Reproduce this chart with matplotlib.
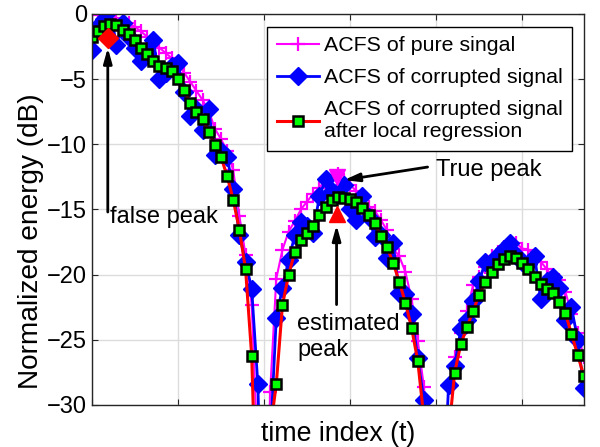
import matplotlib
matplotlib.use("Agg")
import matplotlib.pyplot as plt
import numpy as np

plt.rcParams['font.family'] = ['Liberation Sans', 'DejaVu Sans']

# sample index (time index t)
t = np.arange(81)

# ACFS of pure signal (dB)
pure = [-0.1, 0.0, -0.05, -0.2, -0.35, -0.5, -0.7, -1.0, -1.35, -1.75,
        -2.2, -2.6, -3.0, -3.4, -3.9, -4.5, -5.2, -5.9, -6.6, -7.4,
        -8.8, -9.6, -10.5, -12.0, -15.5, -18.5, -22.3, -34.0, -45.0, -29.0,
        -20.3, -18.1, -16.7, -15.9, -15.0, -14.4, -13.8, -13.35, -12.7, -12.45,
        -12.3, -12.8, -13.1, -13.6, -14.3, -14.8, -15.1, -15.8, -16.6, -18.0,
        -18.6, -19.8, -21.9, -25.1, -28.6, -40.0, -48.0, -40.0, -28.6, -26.3,
        -24.5, -22.8, -20.8, -20.2, -19.4, -18.6, -18.3, -17.85, -17.75, -17.6,
        -18.0, -18.1, -18.5, -19.0, -19.6, -20.2, -20.4, -21.3, -23.0, -24.5,
        -26.3]

# ACFS of corrupted signal (dB)
corrupted = [-2.8, -0.9, -0.4, 0.3, -2.4, -0.7, -1.8, -2.6, -3.6, -3.0,
             -2.0, -5.0, -4.5, -4.0, -3.8, -6.0, -7.8, -7.3, -8.9, -7.3,
             -10.8, -10.5, -11.0, -13.4, -17.0, -19.0, -21.1, -28.4, -45.0, -33.0,
             -23.3, -21.0, -18.9, -17.0, -16.0, -16.3, -16.8, -14.0, -12.7, -13.6,
             -13.8, -13.1, -15.0, -15.8, -14.0, -15.6, -17.1, -17.0, -18.7, -17.6,
             -21.4, -21.5, -23.0, -26.4, -29.6, -40.0, -48.0, -40.0, -28.5, -27.0,
             -24.2, -23.5, -22.0, -20.5, -19.0, -19.0, -18.5, -18.0, -17.6, -18.5,
             -19.0, -19.2, -18.6, -21.9, -20.5, -20.2, -21.0, -23.5, -22.5, -25.0,
             -28.7]

# ACFS of corrupted signal after local regression (dB)
smoothed = [-1.76, -1.3, -0.96, -0.77, -0.88, -1.23, -1.53, -2.0, -2.61, -3.07,
            -3.61, -3.99, -4.18, -4.41, -4.99, -5.83, -6.83, -7.52, -8.06, -9.05,
            -10.05, -10.97, -12.43, -14.27, -16.57, -19.57, -26.24, -42.0, -48.0, -32.0,
            -28.39, -22.33, -20.03, -18.26, -17.34, -16.78, -16.27, -15.42, -14.79, -14.27,
            -14.06, -14.16, -14.23, -14.42, -14.89, -15.42, -16.04, -17.03, -17.88, -19.1,
            -20.56, -22.17, -24.09, -26.62, -31.0, -40.0, -48.0, -40.0, -32.3, -27.52,
            -25.34, -24.04, -22.77, -21.56, -20.54, -19.77, -19.2, -18.82, -18.57, -18.74,
            -19.13, -19.59, -20.16, -20.72, -21.12, -21.43, -22.07, -22.96, -24.55, -26.16,
            -27.75]

# annotated peaks (t, dB)
false_peak = (2.6, -1.85)
true_peak = (39.8, -12.5)
est_peak = (39.8, -15.35)

fig = plt.figure(figsize=(6.0, 4.47), dpi=100)
ax = fig.add_axes([0.153, 0.094, 0.82, 0.875])

ax.plot(t, pure, color='#ff00ff', lw=1.5, marker='+', ms=10, mew=1.6,
        label='ACFS of pure singal')
ax.plot(t, corrupted, color='#0000ff', lw=2, marker='D', ms=9.5,
        label='ACFS of corrupted signal')
ax.plot(t, smoothed, color='#ff0000', lw=2.2, marker='s', ms=6.5,
        mfc='#00ff00', mec='k', mew=1.8,
        label='ACFS of corrupted signal\nafter local regression')

ax.plot(*false_peak, marker='D', color='#ff0000', ms=10, zorder=5)
ax.plot(*true_peak, marker='v', color='#ff00ff', ms=11, zorder=5)
ax.plot(*est_peak, marker='^', color='#ff0000', ms=11, zorder=5)

arrow = dict(arrowstyle='-|>,head_length=0.9,head_width=0.25', lw=2,
             color='k', shrinkA=0, shrinkB=0)
ax.annotate('', xy=(false_peak[0], false_peak[1] - 0.75),
            xytext=(false_peak[0], -15.2), arrowprops=arrow)
ax.text(2.9, -15.6, 'false peak', fontsize=17, va='center', ha='left')

ax.annotate('', xy=(est_peak[0], est_peak[1] - 0.85),
            xytext=(est_peak[0], -22.3), arrowprops=arrow)
ax.text(33.4, -24.8, 'estimated\npeak', fontsize=17, va='center', ha='left',
        linespacing=1.2)

ax.annotate('', xy=(41.0, -12.75), xytext=(54.6, -11.75), arrowprops=arrow)
ax.text(55.9, -11.95, 'True peak', fontsize=17, va='center', ha='left')

ax.set_xlim(0, 80)
ax.set_ylim(-30, 0)
ax.set_xticks(np.arange(0, 81, 14))
ax.set_xticklabels([])
ax.set_yticks(np.arange(-30, 1, 5))
ax.tick_params(direction='in', top=True, right=True, labelsize=17,
               length=4, color='#262626')
ax.grid(True, color='#dcdcdc', lw=1)
ax.set_axisbelow(True)
for s in ax.spines.values():
    s.set_color('#262626')
    s.set_linewidth(1)

ax.set_xlabel('time index (t)', fontsize=19.3, labelpad=8)
ax.set_ylabel('Normalized energy (dB)', fontsize=20.2)
ax.yaxis.set_label_coords(-0.097, 0.42)

leg = ax.legend(loc='upper right', bbox_to_anchor=(0.976, 0.967),
                fontsize=15.4, handlelength=2.0, handletextpad=0.2,
                borderpad=0.45, labelspacing=0.6, borderaxespad=0,
                fancybox=False, framealpha=1)
leg.get_frame().set_edgecolor('k')
leg.get_frame().set_linewidth(1)

fig.savefig('out.png', dpi=100)
